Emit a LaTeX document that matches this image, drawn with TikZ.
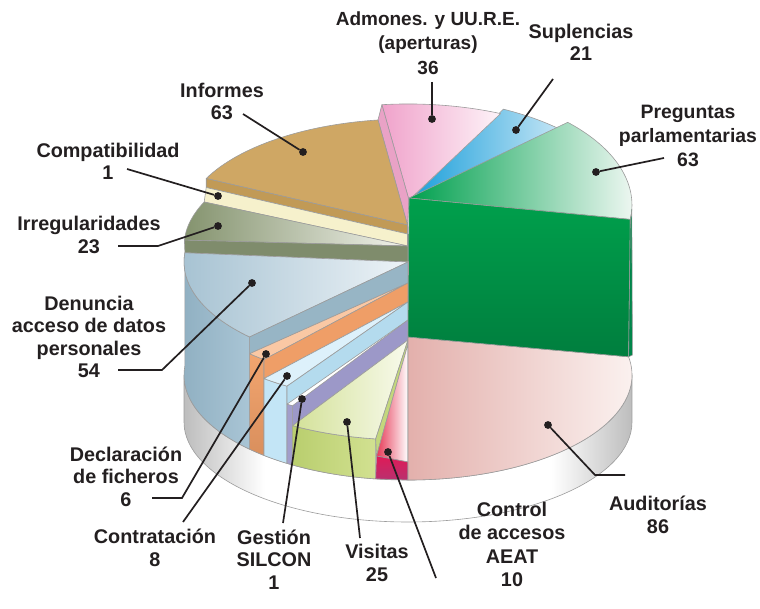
\documentclass[tikz,border=0pt]{standalone}
\usepackage{fontspec}
\setmainfont{Liberation Sans}

\definecolor{ink}{HTML}{231F20}
\definecolor{edge}{HTML}{9C9C9C}
\definecolor{baseG}{HTML}{BDBDBD}
\definecolor{supA}{HTML}{1B9FDA}
\definecolor{supB}{HTML}{E8F4FB}
\definecolor{admA}{HTML}{F0A3CB}
\definecolor{admB}{HTML}{FDF3F8}
\definecolor{admC}{HTML}{E9A2C6}
\definecolor{infA}{HTML}{CFA764}
\definecolor{infB}{HTML}{C19A56}
\definecolor{comA}{HTML}{F6F1CC}
\definecolor{irrA}{HTML}{84936E}
\definecolor{irrB}{HTML}{F2F3EC}
\definecolor{irrC}{HTML}{7F8C6C}
\definecolor{denA}{HTML}{A6C2D2}
\definecolor{denB}{HTML}{EDF3F7}
\definecolor{denC}{HTML}{97B5C5}
\definecolor{denW}{HTML}{8FAFC1}
\definecolor{denV}{HTML}{A9C5D5}
\definecolor{decT}{HTML}{FAC8A4}
\definecolor{decC}{HTML}{EF9E67}
\definecolor{decA}{HTML}{F2A56F}
\definecolor{decB}{HTML}{D98F5D}
\definecolor{conT}{HTML}{DDF1FB}
\definecolor{conC}{HTML}{B4DBEE}
\definecolor{conW}{HTML}{C3E5F6}
\definecolor{gesC}{HTML}{9C98C8}
\definecolor{gesW}{HTML}{A29ECB}
\definecolor{visA}{HTML}{D3E198}
\definecolor{visB}{HTML}{F8FAEC}
\definecolor{visC}{HTML}{C3D77C}
\definecolor{visW}{HTML}{B9CE6E}
\definecolor{visV}{HTML}{D2E191}
\definecolor{ctlA}{HTML}{E63A57}
\definecolor{ctlW}{HTML}{DF1B57}
\definecolor{ctlV}{HTML}{B9306F}
\definecolor{audA}{HTML}{E3B0AC}
\definecolor{audB}{HTML}{FCF4F2}
\definecolor{preA}{HTML}{00A04E}
\definecolor{preB}{HTML}{F3F9F5}
\definecolor{preC}{HTML}{00A04C}
\definecolor{preD}{HTML}{007E3E}
\definecolor{preS}{HTML}{00864A}

\pgfdeclarehorizontalshading{plate}{100bp}{color(0bp)=(baseG); color(25bp)=(baseG);
  color(34bp)=(white); color(66bp)=(white); color(75bp)=(baseG); color(100bp)=(baseG)}

\tikzset{
  face/.style={draw=edge,line width=0.6pt,line join=round},
  lbl/.style={font=\bfseries\fontsize{19.8}{22.5}\selectfont,align=center,
    text=ink,inner sep=0pt},
  dot/.style={circle,fill=ink,inner sep=0pt,minimum size=7.8pt},
  leader/.style={draw=ink,line width=1.7pt}
}

\begin{document}
\begin{tikzpicture}[x=1pt,y=-1pt]
  \useasboundingbox (0,0) rectangle (760,609);
  % base plate
  \draw[face,shading=plate]
    (632,375) arc[start angle=0,end angle=180,x radius=224,y radius=105]
    -- (184,422) arc[start angle=180,end angle=0,x radius=224,y radius=100] -- cycle;
  % back slices
  \draw[face,left color=supA,right color=supB]
    (503.4,109.2) arc[start angle=-64.8,end angle=-35,x radius=224,y radius=118]
    -- (411,199) -- cycle;
  \draw[face,left color=admA,right color=admB]
    (381.9,104.7) arc[start angle=-96.7,end angle=-65.6,x radius=224,y radius=108]
    -- (409,200) -- cycle;
  \draw[face,fill=admC] (381.9,104.7) -- (409,200) -- (407.5,225) -- (378,119.9) -- cycle;
  \draw[face,fill=infA]
    (206.2,178.5) arc[start angle=-154.3,end angle=-97.7,x radius=224,y radius=105]
    -- (407.5,225) -- cycle;
  \draw[face,fill=infB] (206.2,178.5) -- (407.5,225) -- (407.5,234) -- (206.2,187.5) -- cycle;
  \draw[face,fill=comA] (206.2,187.5) -- (407.5,234) -- (407.5,246) -- (204.2,202) -- cycle;
  \draw[face,left color=irrA,right color=irrB]
    (204.2,202) arc[start angle=-155.5,end angle=-176.8,x radius=224,y radius=106]
    -- (408,246) -- cycle;
  \draw[face,fill=irrC] (184.4,240.1) -- (408,246) -- (408,262) -- (184.9,252.8) -- cycle;
  % left slices
  \draw[face,left color=denW,right color=denV]
    (184.9,252.8) arc[start angle=185,end angle=135,x radius=224,y radius=106]
    -- (249.6,449.2) arc[start angle=135,end angle=185,x radius=224,y radius=105] -- cycle;
  \draw[face,left color=denA,right color=denB]
    (184.9,252.8) arc[start angle=185,end angle=135,x radius=224,y radius=106]
    -- (408,262) -- cycle;
  \draw[face,fill=denC] (408,262) -- (249.6,337) -- (249.6,353.7) -- (408,283) -- cycle;
  \draw[face,top color=decA,bottom color=decB]
    (249.6,353.7) arc[start angle=135,end angle=130,x radius=224,y radius=100]
    -- (264,455.4) arc[start angle=130,end angle=135,x radius=224,y radius=105] -- cycle;
  \draw[face,fill=decT] (408,283) -- (249.6,353.7)
    arc[start angle=135,end angle=130,x radius=224,y radius=100] -- cycle;
  \draw[face,fill=decC] (408,283) -- (264,359.6) -- (264,378.6) -- (408,302) -- cycle;
  \draw[face,fill=conW]
    (264,378.6) arc[start angle=130,end angle=122.7,x radius=224,y radius=100]
    -- (287,463.4) arc[start angle=122.7,end angle=130,x radius=224,y radius=105] -- cycle;
  \draw[face,fill=conT] (408,302) -- (264,378.6)
    arc[start angle=130,end angle=122.7,x radius=224,y radius=100] -- cycle;
  \draw[face,fill=conC] (408,302) -- (287,386.2) -- (287,404.2) -- (408,320) -- cycle;
  \draw[face,fill=gesW]
    (287,404.2) arc[start angle=122.7,end angle=121,x radius=224,y radius=100]
    -- (292.6,465) arc[start angle=121,end angle=122.7,x radius=224,y radius=105] -- cycle;
  \draw[face,fill=gesC] (408,320) -- (292.6,405.7) -- (292.6,425.7) -- (408,340) -- cycle;
  % front slices
  \draw[face,left color=visW,right color=visV]
    (292.6,425.7) arc[start angle=121,end angle=98.3,x radius=224,y radius=100]
    -- (375.7,478.9) arc[start angle=98.3,end angle=121,x radius=224,y radius=105] -- cycle;
  \draw[face,left color=visA,right color=visB] (408,340) -- (292.6,425.7)
    arc[start angle=121,end angle=98.3,x radius=224,y radius=100] -- cycle;
  \draw[face,fill=visC] (408,340) -- (375.7,439) -- (376.5,456) -- (408,344) -- cycle;
  \draw[face,left color=ctlA,right color=white] (408,344) -- (376.5,456) -- (408,462) -- cycle;
  \draw[face,top color=ctlW,bottom color=ctlV]
    (376.5,456) -- (408,462) -- (408,480) -- (375.7,478.9) -- cycle;
  \draw[face,left color=audA,right color=audB] (408,337) -- (628.6,356.8)
    arc[start angle=-10,end angle=90,x radius=224,y radius=105] -- cycle;
  \draw[face,left color=preA,right color=preB] (409,198) -- (630.3,219.4)
    arc[start angle=7,end angle=-44.5,x radius=224,y radius=118] -- cycle;
  \draw[face,top color=preC,bottom color=preD]
    (409,198) -- (630.3,219.4) -- (628.6,356.8) -- (408,337) -- cycle;
  \draw[face,fill=preS] (630.3,219.4)
    arc[start angle=7,end angle=2,x radius=224,y radius=118]
    -- (632.4,355) -- (628.6,356.8) -- cycle;

  % labels
  \node[lbl,font=\bfseries\fontsize{19}{24.5}\selectfont] (tAdm) at (428,43)
    {Admones. y UU.R.E.\\(aperturas)\\36};
  \node[lbl] (tSup) at (581,42.5) {Suplencias\\21};
  \node[lbl,font=\bfseries\fontsize{19.4}{24}\selectfont] (tPre) at (688,136)
    {Preguntas\\parlamentarias\\63};
  \node[lbl] (tInf) at (222,101.5) {Informes\\63};
  \node[lbl] (tCom) at (108,161.5) {Compatibilidad\\1};
  \node[lbl] (tIrr) at (89,235) {Irregularidades\\23};
  \node[lbl] (tDen) at (89,337) {Denuncia\\acceso de datos\\personales\\54};
  \node[lbl] (tDec) at (126,476.5) {Declaración\\de ficheros\\6};
  \node[lbl] (tCon) at (155,548) {Contratación\\8};
  \node[lbl] (tGes) at (274,559.5) {Gestión\\SILCON\\1};
  \node[lbl] (tVis) at (377,563) {Visitas\\25};
  \node[lbl,font=\bfseries\fontsize{19.8}{23.5}\selectfont] (tCtl) at (512,544.5)
    {Control\\de accesos\\AEAT\\10};
  \node[lbl] (tAud) at (658,515) {Auditorías\\86};

  % dots
  \node[dot] (dAdm) at (432,119) {};
  \node[dot] (dSup) at (516,130) {};
  \node[dot] (dPre) at (596,172) {};
  \node[dot] (dInf) at (303,152) {};
  \node[dot] (dCom) at (218,196) {};
  \node[dot] (dIrr) at (218,226) {};
  \node[dot] (dDen) at (252,283) {};
  \node[dot] (dDec) at (266,354) {};
  \node[dot] (dCon) at (287,376) {};
  \node[dot] (dGes) at (302,399) {};
  \node[dot] (dVis) at (347,422) {};
  \node[dot] (dCtl) at (388,452) {};
  \node[dot] (dAud) at (548,425) {};

  % leader ends
  \coordinate (kAdm) at (432,82);
  \coordinate (kSup) at (553,79);
  \coordinate (kPre) at (664,158);
  \coordinate (kInf) at (243,114);
  \coordinate (kCom) at (127,169);
  \coordinate (kIrr) at (118,246);
  \coordinate (kIrrB) at (158,246);
  \coordinate (kDen) at (118,370);
  \coordinate (kDenB) at (162,370);
  \coordinate (kDec) at (152,498);
  \coordinate (kDecB) at (182,498);
  \coordinate (kCon) at (183,522);
  \coordinate (kGes) at (283,523);
  \coordinate (kVis) at (360,538);
  \coordinate (kCtl) at (436,578);
  \coordinate (kAud) at (625,475);
  \coordinate (kAudB) at (595,475);

  \draw[leader] (kAdm) -- (dAdm);
  \draw[leader] (kSup) -- (dSup);
  \draw[leader] (kPre) -- (dPre);
  \draw[leader] (kInf) -- (dInf);
  \draw[leader] (kCom) -- (dCom);
  \draw[leader] (kIrr) -- (kIrrB) -- (dIrr);
  \draw[leader] (kDen) -- (kDenB) -- (dDen);
  \draw[leader] (kDec) -- (kDecB) -- (dDec);
  \draw[leader] (kCon) -- (dCon);
  \draw[leader] (kGes) -- (dGes);
  \draw[leader] (kVis) -- (dVis);
  \draw[leader] (kCtl) -- (dCtl);
  \draw[leader] (kAud) -- (kAudB) -- (dAud);
\end{tikzpicture}
\end{document}
